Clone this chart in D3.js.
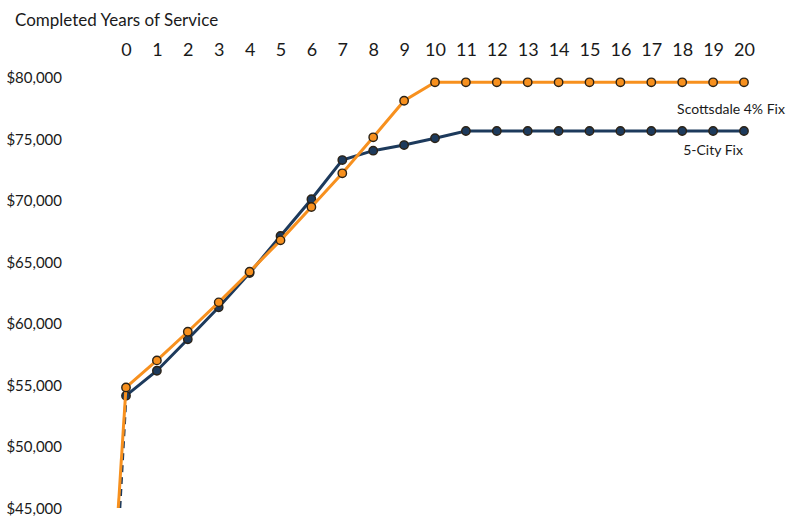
<!DOCTYPE html>
<html>
<head>
<meta charset="utf-8">
<script src="https://cdn.jsdelivr.net/npm/d3@7"></script>
<style>
  body { margin: 0; background: #fff; }
  svg text { font-family: Lato, "Open Sans", sans-serif; fill: #1a1a1a; }
</style>
</head>
<body>
<div class="chart"></div>
<script>
// years of service along the top
const years = d3.range(0, 21);
const yTicks = [45000, 50000, 55000, 60000, 65000, 70000, 75000, 80000];

const scottsdale = [54800, 57000, 59330, 61720, 64210, 66760, 69470, 72210, 75140, 78110,
                    79610, 79610, 79610, 79610, 79610, 79610, 79610, 79610, 79610, 79610, 79610];
const fiveCity = [54130, 56160, 58720, 61320, 64100, 67120, 70100, 73290, 74050, 74510,
                  75060, 75650, 75650, 75650, 75650, 75650, 75650, 75650, 75650, 75650, 75650];

// both lines run down from a hiring point just left of year 0
const startYear = [-0.25, -0.2];
const startValue = [45000, 45000];

const seriesNames = ["Scottsdale 4% Fix", "5-City Fix"];

const w = 791;
const h = 521;

const xScale = d3.scaleLinear().domain([0, 20]).range([126, 744]);
const yScale = d3.scaleLinear().domain([45000, 80000]).range([508, 77.5]);

const svg = d3.select(".chart")
  .append("svg")
  .attr("width", w)
  .attr("height", h);

svg.append("text")
  .attr("x", 15)
  .attr("y", 20)
  .attr("dy", "0.35em")
  .style("font-size", "17px")
  .text("Completed Years of Service");

const xAxis = d3.axisTop(xScale).tickValues(years).tickSize(0).tickPadding(0);
const gx = svg.append("g")
  .attr("transform", "translate(0, 50)")
  .call(xAxis);
gx.select(".domain").remove();
gx.selectAll("text")
  .attr("y", 0)
  .attr("dy", "0.35em")
  .style("font-size", "18px")
  .style("font-family", "Lato, sans-serif")
  .attr("fill", "#1a1a1a");

const yAxis = d3.axisLeft(yScale).tickValues(yTicks).tickSize(0).tickPadding(0)
  .tickFormat(d3.format("$,"));
const gy = svg.append("g")
  .attr("transform", "translate(62, 0)")
  .call(yAxis);
gy.select(".domain").remove();
gy.selectAll("text")
  .attr("dy", "0.35em")
  .style("font-size", "15px")
  .style("font-family", "Lato, sans-serif")
  .attr("fill", "#1a1a1a");

const series = [
  { name: seriesNames[1], values: fiveCity, start: 1, color: "#1d3a5c", fill: "#1d3a5c", dash: "7,5" },
  { name: seriesNames[0], values: scottsdale, start: 0, color: "#f7901e", fill: "#f7901e", dash: null }
];

const line = d3.line()
  .x((d) => xScale(d.x))
  .y((d) => yScale(d.y));

series.forEach((s) => {
  const pts = years.map((yr, i) => ({ x: yr, y: s.values[i] }));
  // drop from the start point up to year 0
  svg.append("path")
    .datum([{ x: startYear[s.start], y: startValue[s.start] }, pts[0]])
    .attr("d", line)
    .attr("fill", "none")
    .attr("stroke", s.color)
    .attr("stroke-width", 3)
    .attr("stroke-dasharray", s.dash);

  svg.append("path")
    .datum(pts)
    .attr("d", line)
    .attr("fill", "none")
    .attr("stroke", s.color)
    .attr("stroke-width", 3);

  svg.selectAll(null)
    .data(pts)
    .enter()
    .append("circle")
    .attr("cx", (d) => xScale(d.x))
    .attr("cy", (d) => yScale(d.y))
    .attr("r", 4.2)
    .attr("fill", s.fill)
    .attr("stroke", "#2b2216")
    .attr("stroke-width", 1.4);
});

// series labels under the flat parts
svg.append("text")
  .attr("x", 731)
  .attr("y", 109)
  .attr("dy", "0.35em")
  .attr("text-anchor", "middle")
  .style("font-size", "14px")
  .text(seriesNames[0]);

svg.append("text")
  .attr("x", 713)
  .attr("y", 150)
  .attr("dy", "0.35em")
  .attr("text-anchor", "middle")
  .style("font-size", "14px")
  .text(seriesNames[1]);
</script>
</body>
</html>
